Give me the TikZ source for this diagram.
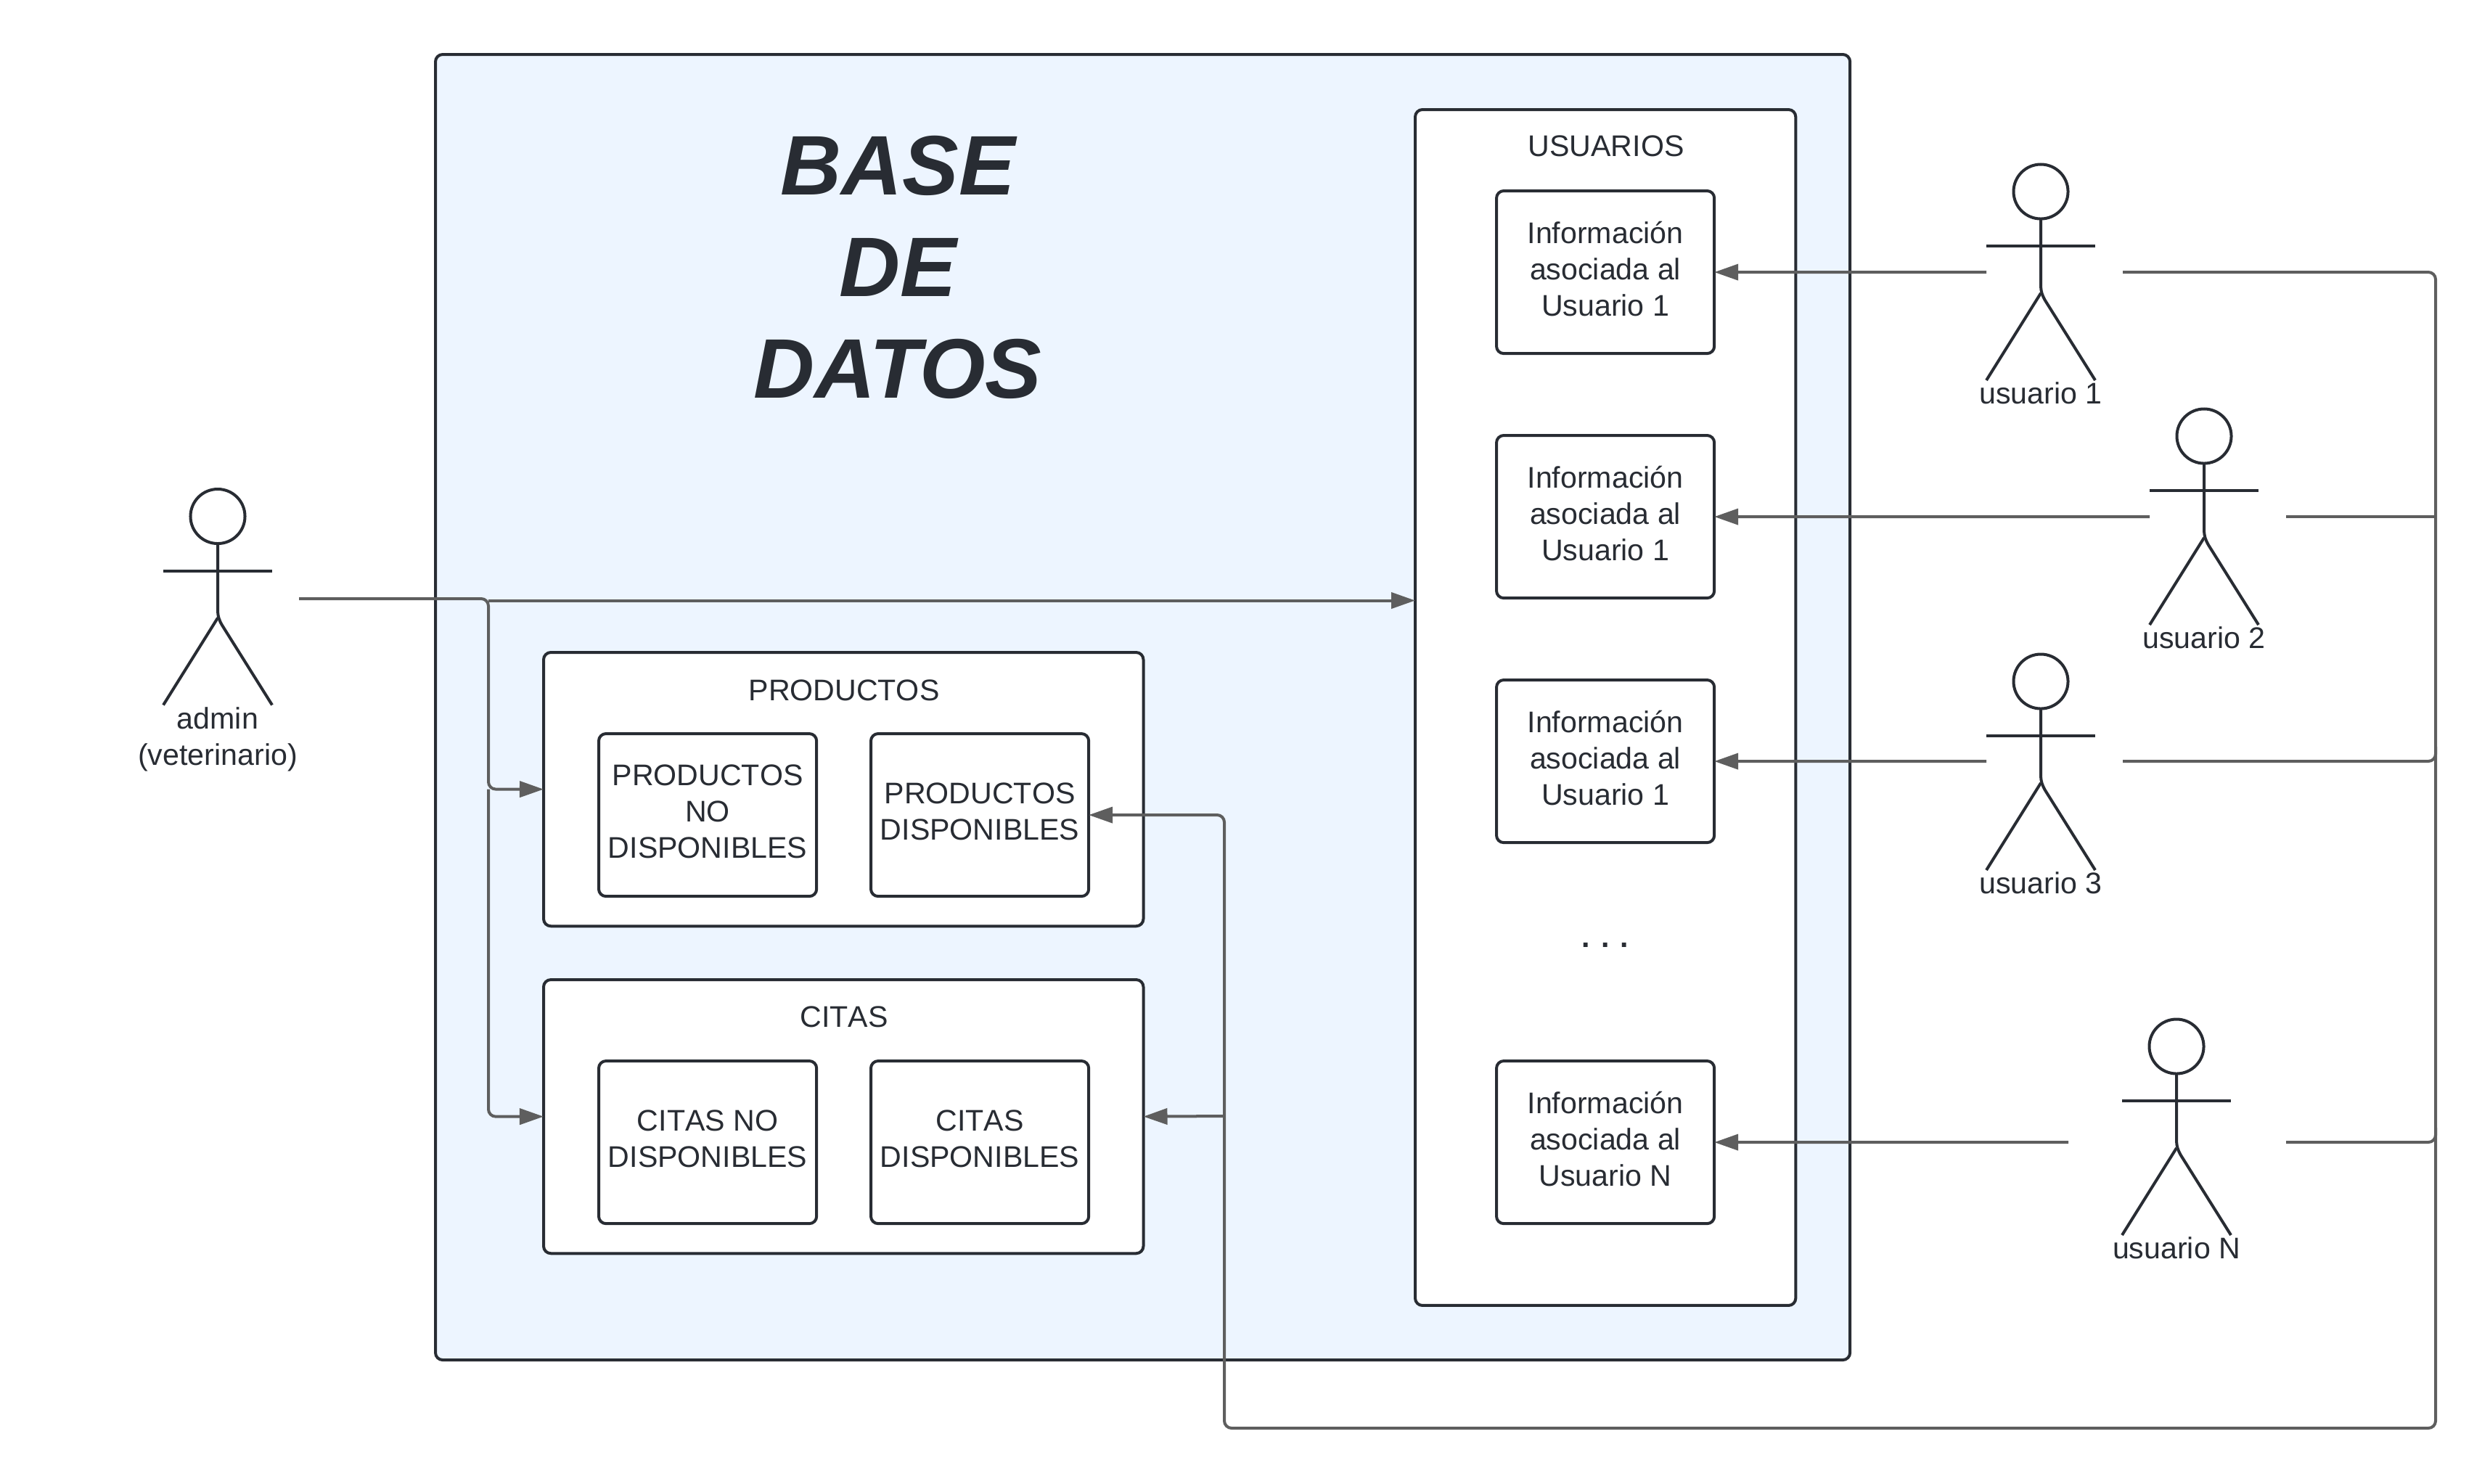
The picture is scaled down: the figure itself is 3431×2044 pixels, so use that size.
\documentclass[tikz,border=0pt]{standalone}
\usepackage{fontspec}
\setmainfont[Kerning=Off]{Liberation Sans}
\newfontfamily\titlefont{Liberation Sans}
\usetikzlibrary{arrows.meta}
\definecolor{ink}{HTML}{282C33}
\definecolor{wire}{HTML}{5E5E5E}
\definecolor{dbfill}{HTML}{EDF5FF}
\newcommand{\txtfont}{\fontsize{11.7}{14.25}\selectfont}
\tikzset{
  every node/.style={inner sep=0pt,outer sep=0pt,text=ink,font=\txtfont},
  boxbase/.style={draw=ink,line width=0.04cm,rounded corners=0.1cm,fill=white,anchor=north west},
  panel/.style={boxbase},
  leaf/.style={boxbase,align=center,execute at end node={\rule[-0.1cm]{0pt}{0.1cm}},
    minimum width=3.0cm,minimum height=2.24cm},
  heading/.style={anchor=base},
  head/.style={circle,draw=ink,line width=0.04cm,fill=white,minimum size=0.75cm},
  limb/.style={draw=ink,line width=0.04cm},
  namelabel/.style={anchor=north,align=center},
  wireline/.style={draw=wire,line width=0.04cm,rounded corners=0.1cm},
  wirearrow/.style={wireline,-{Triangle[length=0.33cm,width=0.22cm]}},
}
% #1 name, #2 centre of head, #3 label
\newcommand{\actorfig}[3]{%
  \begin{scope}[shift={#2}]
    \node[head] (#1) at (0,0) {};
    \path[limb] (#1.south) -- (0,128) .. controls (0,138) and (2,143) .. (6,150) -- (75,260);
    \path[limb] (-75,260) -- (0,140);
    \path[limb] (-75,75) -- (75,75);
    \node[namelabel] (#1-name) at (0,263) {#3};
  \end{scope}}
\begin{document}
\begin{tikzpicture}[x=0.01cm,y=-0.01cm]
\path[fill=white,use as bounding box] (0,0) rectangle (3431,2044);

\node[panel,fill=dbfill,minimum width=19.48cm,minimum height=17.98cm] (db) at (600,75) {};
\node[align=center,font=\titlefont\bfseries\itshape\fontsize{33.1}{39.8}\selectfont] (title) at (1237,368) {BASE\\DE\\DATOS};

% USUARIOS
\node[panel,minimum width=5.24cm,minimum height=16.47cm] (usuarios) at (1950,151) {};
\node[heading] (usuariosT) at (2213,215) {USUARIOS};
\node[leaf] (info1) at (2062,263) {Información\\asociada al\\Usuario 1};
\node[leaf] (info2) at (2062,600) {Información\\asociada al\\Usuario 1};
\node[leaf] (info3) at (2062,937) {Información\\asociada al\\Usuario 1};
\node[heading,font=\txtfont\bfseries] (dots) at (2212,1305) {. . .};
\node[leaf] (infoN) at (2062,1462) {Información\\asociada al\\Usuario N};

% PRODUCTOS
\node[panel,minimum width=8.26cm,minimum height=3.77cm] (productos) at (749,899) {};
\node[heading] (productosT) at (1163,965) {PRODUCTOS};
\node[leaf] (prodNo) at (825,1011) {PRODUCTOS\\NO\\DISPONIBLES};
\node[leaf] (prodSi) at (1200,1011) {PRODUCTOS\\DISPONIBLES};

% CITAS
\node[panel,minimum width=8.26cm,minimum height=3.77cm] (citas) at (749,1350) {};
\node[heading] (citasT) at (1163,1415) {CITAS};
\node[leaf] (citaNo) at (825,1462) {CITAS NO\\DISPONIBLES};
\node[leaf] (citaSi) at (1200,1462) {CITAS\\DISPONIBLES};

% actors
\actorfig{admin}{(300,711.5)}{admin\\(veterinario)}
\actorfig{u1}{(2812,264)}{usuario 1}
\actorfig{u2}{(3037,601)}{usuario 2}
\actorfig{u3}{(2812,939)}{usuario 3}
\actorfig{uN}{(2999,1442)}{usuario N}

% free ends of connectors
\coordinate (adminOut) at (412,825);
\coordinate (adminDown) at (673,1087.5);
\coordinate (adminHoriz) at (673,827.5);
\coordinate (u1L) at (2737,375);
\coordinate (u1R) at (2925,375);
\coordinate (u2L) at (2962,712);
\coordinate (u2R) at (3150,712);
\coordinate (u3L) at (2737,1049);
\coordinate (u3R) at (2925,1049);
\coordinate (uNL) at (2850,1574);
\coordinate (uNR) at (3150,1574);
\coordinate (trunkB) at (3356,1968);
\coordinate (trunkL) at (1687,1123);
\coordinate (j3) at (3356,1029);
\coordinate (jN) at (3356,1554);
\coordinate (citasJ) at (1687,1538);

% connectors
\path[wirearrow] (adminOut) -| (adminDown) -- (productos.west);
\path[wirearrow] (adminHoriz) -- (adminHoriz -| usuarios.west);
\path[wirearrow] (adminDown) |- (citas.west);
\path[wirearrow] (u1L) -- (info1.east);
\path[wirearrow] (u2L) -- (info2.east);
\path[wirearrow] (u3L) -- (info3.east);
\path[wirearrow] (uNL) -- (infoN.east);
\path[wirearrow] (u1R) -| (trunkB) -| (trunkL) -- (prodSi.east);
\path[wireline] (u2R) -- (u2R -| trunkB);
\path[wireline] (u3R) -| (j3);
\path[wireline] (uNR) -| (jN);
\path[wirearrow] (citasJ) -- (citas.east);
\end{tikzpicture}
\end{document}
